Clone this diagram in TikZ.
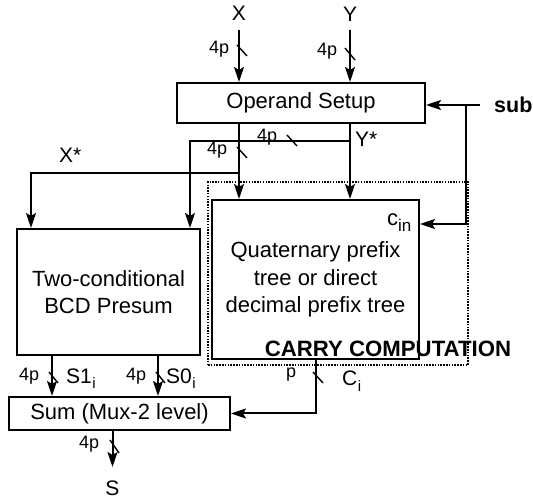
\documentclass[tikz,border=0pt]{standalone}
\usepackage{fontspec}
\setmainfont{Liberation Sans}
\usetikzlibrary{arrows.meta,calc}
\begin{document}
\begin{tikzpicture}[x=1pt,y=-1pt,
  box/.style={draw,line width=2pt,inner sep=0pt,align=center,font=\fontsize{22}{27.5}\selectfont},
  arr/.style={line width=2pt,-{Stealth[length=15pt,width=10pt,inset=3pt]}},
  bus/.style={line width=1.4pt},
  lbl/.style={inner sep=0pt,font=\fontsize{21}{22}\selectfont},
  small/.style={inner sep=0pt,font=\fontsize{18}{18}\selectfont},
  boldlbl/.style={inner sep=0pt,font=\bfseries\fontsize{21.5}{24}\selectfont},
]
\useasboundingbox (0,0) rectangle (533,502);
% blocks
\node[box,minimum width=248pt,minimum height=40pt] (os) at (301,103) {Operand Setup};
\node[box,minimum width=207pt,minimum height=159pt] (qt) at (315.5,279.5) {Quaternary prefix\\tree or direct\\decimal prefix tree};
\node[box,minimum width=183pt,minimum height=126pt] (tc) at (108.5,292) {Two-conditional\\BCD Presum};
\node[box,minimum width=221pt,minimum height=33pt] (sum) at (119.5,413.5) {Sum (Mux-2 level)};
\node[draw,line width=1.5pt,dash pattern=on 1.5pt off 1.3pt,minimum width=260pt,minimum height=183pt,inner sep=0pt] (cc) at (338,273.5) {};
\node[boldlbl,font=\bfseries\fontsize{22.2}{24}\selectfont,anchor=base] (cclbl) at (388,357) {CARRY COMPUTATION};
% labels
\node[lbl,anchor=base] (xl) at (239,21) {X};
\node[lbl,anchor=base] (yl) at (350,22) {Y};
\node[lbl,anchor=base] (sl) at (112.5,495) {S};
\node[lbl,anchor=base west] (xs) at (59,163) {X*};
\node[lbl,anchor=base west] (ys) at (355,147) {Y*};
\node[boldlbl,anchor=base west] (subl) at (494,113) {sub};
\node[lbl,anchor=base west,font=\fontsize{22}{22}\selectfont] (cinl) at (387,226) {c\raisebox{-6pt}{\fontsize{17}{17}\selectfont in}};
\node[lbl,anchor=base west] (s1l) at (66,384) {S1\kern0.5pt\raisebox{-5pt}{\fontsize{15}{15}\selectfont i}};
\node[lbl,anchor=base west] (s0l) at (166,384) {S0\kern0.5pt\raisebox{-5pt}{\fontsize{15}{15}\selectfont i}};
\node[lbl,anchor=base west] (cil) at (342,386) {C\kern0.5pt\raisebox{-6pt}{\fontsize{15}{15}\selectfont i}};
% bus width labels
\node[small,anchor=base west] (w1) at (209,54) {4p};
\node[small,anchor=base west] (w2) at (317,56) {4p};
\node[small,anchor=base west] (w3) at (207,155) {4p};
\node[small,anchor=base west] (w4) at (257,142) {4p};
\node[small,anchor=base west] (w5) at (19,381) {4p};
\node[small,anchor=base west] (w6) at (126,381) {4p};
\node[small,anchor=base west] (w7) at (286,378) {p};
\node[small,anchor=base west] (w8) at (79,449) {4p};
% coordinates
\coordinate (xtop) at (239,30);
\coordinate (ytop) at (350,30);
\coordinate (xbr) at (239,173);
\coordinate (xcol) at (31,0);
\coordinate (ybr) at (350,141);
\coordinate (ycol) at (190,0);
\coordinate (subin) at (480,105);
\coordinate (subbr) at (466,105);
\coordinate (cinrow) at (0,224);
\coordinate (s1col) at (52,0);
\coordinate (s0col) at (158,0);
\coordinate (ccol) at (316,0);
\coordinate (ocol) at (112.5,0);
\coordinate (sout) at (112.5,467);
% connectors
\draw[arr] (xtop) -- (xtop |- os.north);
\draw[arr] (ytop) -- (ytop |- os.north);
\draw[arr] (os.south -| xtop) -- (qt.north -| xtop);
\draw[arr] (os.south -| ytop) -- (qt.north -| ytop);
\draw[arr] (xbr) -| (tc.north -| xcol);
\draw[arr] (ybr) -| (tc.north -| ycol);
\draw[arr] (subin) -- (os.east |- subin);
\draw[arr] (subbr) |- (qt.east |- cinrow);
\draw[arr] (tc.south -| s1col) -- (sum.north -| s1col);
\draw[arr] (tc.south -| s0col) -- (sum.north -| s0col);
\draw[arr] (qt.south -| ccol) |- (sum.east);
\draw[arr] (sum.south -| ocol) -- (sout);
% bus slashes
\draw[bus] (237,45) -- (247,56);
\draw[bus] (345,48) -- (355,60);
\draw[bus] (237,147) -- (247,158);
\draw[bus] (287,135) -- (297,146);
\draw[bus] (49,372) -- (58,383);
\draw[bus] (156,372) -- (165,383);
\draw[bus] (313,372) -- (323,383);
\draw[bus] (110,440) -- (119,453);
\end{tikzpicture}
\end{document}
